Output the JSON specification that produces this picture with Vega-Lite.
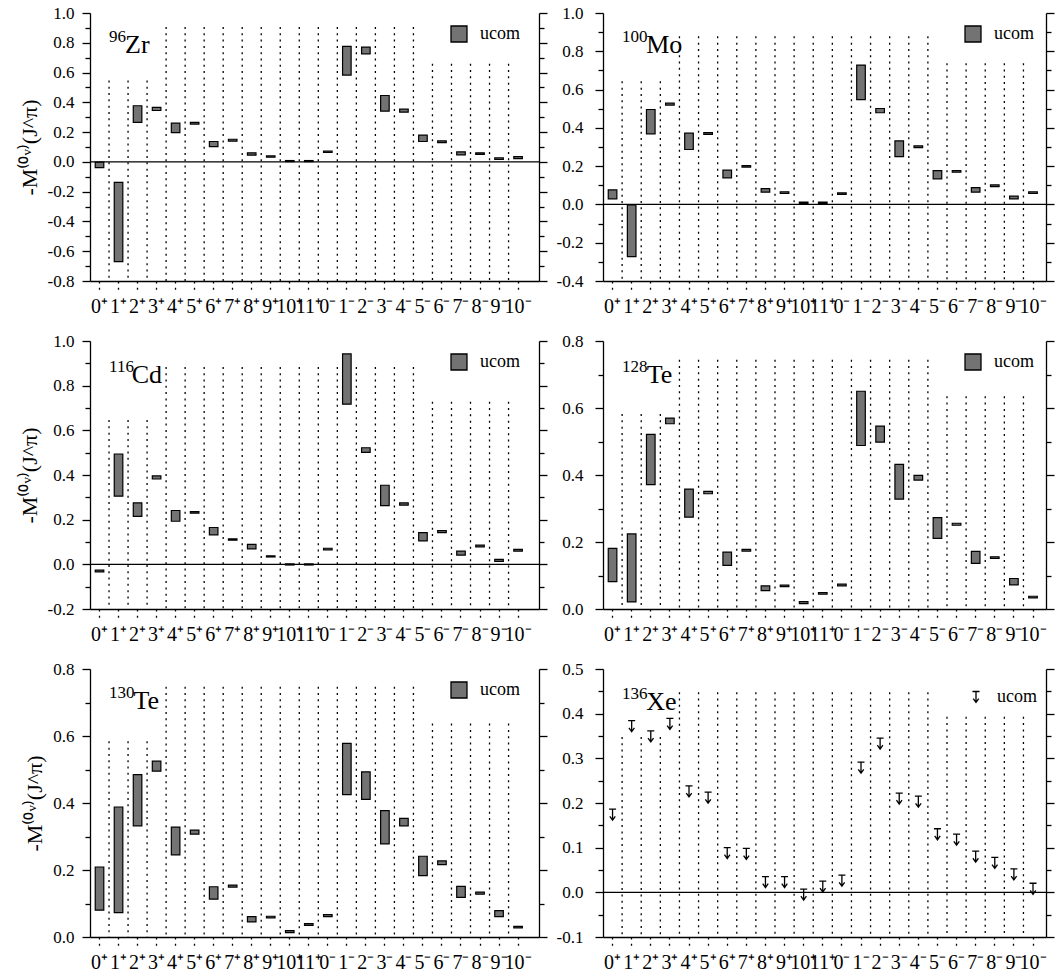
{
  "$schema": "https://vega.github.io/schema/vega-lite/v6.json",
  "padding": {"left": 18, "top": 4, "right": 5, "bottom": 5},
  "datasets": {
    "bars": [
      {"n":"96Zr","J":"0⁺","lo":-0.038,"hi":-0.002,"m":"ucom"},
      {"n":"96Zr","J":"1⁺","lo":-0.67,"hi":-0.137,"m":"ucom"},
      {"n":"96Zr","J":"2⁺","lo":0.265,"hi":0.377,"m":"ucom"},
      {"n":"96Zr","J":"3⁺","lo":0.345,"hi":0.366,"m":"ucom"},
      {"n":"96Zr","J":"4⁺","lo":0.197,"hi":0.26,"m":"ucom"},
      {"n":"96Zr","J":"5⁺","lo":0.254,"hi":0.266,"m":"ucom"},
      {"n":"96Zr","J":"6⁺","lo":0.103,"hi":0.137,"m":"ucom"},
      {"n":"96Zr","J":"7⁺","lo":0.139,"hi":0.152,"m":"ucom"},
      {"n":"96Zr","J":"8⁺","lo":0.045,"hi":0.061,"m":"ucom"},
      {"n":"96Zr","J":"9⁺","lo":0.031,"hi":0.04,"m":"ucom"},
      {"n":"96Zr","J":"10⁺","lo":0.002,"hi":0.009,"m":"ucom"},
      {"n":"96Zr","J":"11⁺","lo":0.002,"hi":0.009,"m":"ucom"},
      {"n":"96Zr","J":"0⁻","lo":0.063,"hi":0.072,"m":"ucom"},
      {"n":"96Zr","J":"1⁻","lo":0.583,"hi":0.776,"m":"ucom"},
      {"n":"96Zr","J":"2⁻","lo":0.726,"hi":0.771,"m":"ucom"},
      {"n":"96Zr","J":"3⁻","lo":0.341,"hi":0.446,"m":"ucom"},
      {"n":"96Zr","J":"4⁻","lo":0.334,"hi":0.354,"m":"ucom"},
      {"n":"96Zr","J":"5⁻","lo":0.137,"hi":0.18,"m":"ucom"},
      {"n":"96Zr","J":"6⁻","lo":0.13,"hi":0.141,"m":"ucom"},
      {"n":"96Zr","J":"7⁻","lo":0.047,"hi":0.067,"m":"ucom"},
      {"n":"96Zr","J":"8⁻","lo":0.05,"hi":0.061,"m":"ucom"},
      {"n":"96Zr","J":"9⁻","lo":0.016,"hi":0.027,"m":"ucom"},
      {"n":"96Zr","J":"10⁻","lo":0.022,"hi":0.036,"m":"ucom"},

      {"n":"100Mo","J":"0⁺","lo":0.029,"hi":0.076,"m":"ucom"},
      {"n":"100Mo","J":"1⁺","lo":-0.273,"hi":-0.002,"m":"ucom"},
      {"n":"100Mo","J":"2⁺","lo":0.369,"hi":0.496,"m":"ucom"},
      {"n":"100Mo","J":"3⁺","lo":0.519,"hi":0.529,"m":"ucom"},
      {"n":"100Mo","J":"4⁺","lo":0.287,"hi":0.372,"m":"ucom"},
      {"n":"100Mo","J":"5⁺","lo":0.366,"hi":0.375,"m":"ucom"},
      {"n":"100Mo","J":"6⁺","lo":0.139,"hi":0.179,"m":"ucom"},
      {"n":"100Mo","J":"7⁺","lo":0.195,"hi":0.203,"m":"ucom"},
      {"n":"100Mo","J":"8⁺","lo":0.064,"hi":0.083,"m":"ucom"},
      {"n":"100Mo","J":"9⁺","lo":0.057,"hi":0.066,"m":"ucom"},
      {"n":"100Mo","J":"10⁺","lo":0.005,"hi":0.012,"m":"ucom"},
      {"n":"100Mo","J":"11⁺","lo":0.005,"hi":0.012,"m":"ucom"},
      {"n":"100Mo","J":"0⁻","lo":0.052,"hi":0.06,"m":"ucom"},
      {"n":"100Mo","J":"1⁻","lo":0.548,"hi":0.728,"m":"ucom"},
      {"n":"100Mo","J":"2⁻","lo":0.479,"hi":0.501,"m":"ucom"},
      {"n":"100Mo","J":"3⁻","lo":0.25,"hi":0.332,"m":"ucom"},
      {"n":"100Mo","J":"4⁻","lo":0.297,"hi":0.306,"m":"ucom"},
      {"n":"100Mo","J":"5⁻","lo":0.134,"hi":0.177,"m":"ucom"},
      {"n":"100Mo","J":"6⁻","lo":0.168,"hi":0.177,"m":"ucom"},
      {"n":"100Mo","J":"7⁻","lo":0.064,"hi":0.088,"m":"ucom"},
      {"n":"100Mo","J":"8⁻","lo":0.093,"hi":0.102,"m":"ucom"},
      {"n":"100Mo","J":"9⁻","lo":0.029,"hi":0.043,"m":"ucom"},
      {"n":"100Mo","J":"10⁻","lo":0.057,"hi":0.066,"m":"ucom"},

      {"n":"116Cd","J":"0⁺","lo":-0.034,"hi":-0.026,"m":"ucom"},
      {"n":"116Cd","J":"1⁺","lo":0.305,"hi":0.494,"m":"ucom"},
      {"n":"116Cd","J":"2⁺","lo":0.215,"hi":0.275,"m":"ucom"},
      {"n":"116Cd","J":"3⁺","lo":0.382,"hi":0.396,"m":"ucom"},
      {"n":"116Cd","J":"4⁺","lo":0.193,"hi":0.241,"m":"ucom"},
      {"n":"116Cd","J":"5⁺","lo":0.229,"hi":0.236,"m":"ucom"},
      {"n":"116Cd","J":"6⁺","lo":0.132,"hi":0.165,"m":"ucom"},
      {"n":"116Cd","J":"7⁺","lo":0.108,"hi":0.114,"m":"ucom"},
      {"n":"116Cd","J":"8⁺","lo":0.069,"hi":0.089,"m":"ucom"},
      {"n":"116Cd","J":"9⁺","lo":0.033,"hi":0.038,"m":"ucom"},
      {"n":"116Cd","J":"10⁺","lo":-0.003,"hi":0.002,"m":"ucom"},
      {"n":"116Cd","J":"11⁺","lo":-0.003,"hi":0.002,"m":"ucom"},
      {"n":"116Cd","J":"0⁻","lo":0.065,"hi":0.072,"m":"ucom"},
      {"n":"116Cd","J":"1⁻","lo":0.717,"hi":0.942,"m":"ucom"},
      {"n":"116Cd","J":"2⁻","lo":0.501,"hi":0.522,"m":"ucom"},
      {"n":"116Cd","J":"3⁻","lo":0.263,"hi":0.354,"m":"ucom"},
      {"n":"116Cd","J":"4⁻","lo":0.265,"hi":0.275,"m":"ucom"},
      {"n":"116Cd","J":"5⁻","lo":0.105,"hi":0.142,"m":"ucom"},
      {"n":"116Cd","J":"6⁻","lo":0.142,"hi":0.151,"m":"ucom"},
      {"n":"116Cd","J":"7⁻","lo":0.041,"hi":0.059,"m":"ucom"},
      {"n":"116Cd","J":"8⁻","lo":0.078,"hi":0.086,"m":"ucom"},
      {"n":"116Cd","J":"9⁻","lo":0.013,"hi":0.022,"m":"ucom"},
      {"n":"116Cd","J":"10⁻","lo":0.059,"hi":0.067,"m":"ucom"},

      {"n":"128Te","J":"0⁺","lo":0.082,"hi":0.181,"m":"ucom"},
      {"n":"128Te","J":"1⁺","lo":0.021,"hi":0.224,"m":"ucom"},
      {"n":"128Te","J":"2⁺","lo":0.371,"hi":0.521,"m":"ucom"},
      {"n":"128Te","J":"3⁺","lo":0.553,"hi":0.57,"m":"ucom"},
      {"n":"128Te","J":"4⁺","lo":0.274,"hi":0.358,"m":"ucom"},
      {"n":"128Te","J":"5⁺","lo":0.344,"hi":0.351,"m":"ucom"},
      {"n":"128Te","J":"6⁺","lo":0.13,"hi":0.17,"m":"ucom"},
      {"n":"128Te","J":"7⁺","lo":0.173,"hi":0.178,"m":"ucom"},
      {"n":"128Te","J":"8⁺","lo":0.055,"hi":0.069,"m":"ucom"},
      {"n":"128Te","J":"9⁺","lo":0.067,"hi":0.071,"m":"ucom"},
      {"n":"128Te","J":"10⁺","lo":0.016,"hi":0.022,"m":"ucom"},
      {"n":"128Te","J":"11⁺","lo":0.044,"hi":0.049,"m":"ucom"},
      {"n":"128Te","J":"0⁻","lo":0.069,"hi":0.074,"m":"ucom"},
      {"n":"128Te","J":"1⁻","lo":0.488,"hi":0.65,"m":"ucom"},
      {"n":"128Te","J":"2⁻","lo":0.498,"hi":0.546,"m":"ucom"},
      {"n":"128Te","J":"3⁻","lo":0.328,"hi":0.432,"m":"ucom"},
      {"n":"128Te","J":"4⁻","lo":0.385,"hi":0.399,"m":"ucom"},
      {"n":"128Te","J":"5⁻","lo":0.211,"hi":0.273,"m":"ucom"},
      {"n":"128Te","J":"6⁻","lo":0.25,"hi":0.256,"m":"ucom"},
      {"n":"128Te","J":"7⁻","lo":0.136,"hi":0.172,"m":"ucom"},
      {"n":"128Te","J":"8⁻","lo":0.151,"hi":0.156,"m":"ucom"},
      {"n":"128Te","J":"9⁻","lo":0.072,"hi":0.091,"m":"ucom"},
      {"n":"128Te","J":"10⁻","lo":0.033,"hi":0.038,"m":"ucom"},

      {"n":"130Te","J":"0⁺","lo":0.08,"hi":0.209,"m":"ucom"},
      {"n":"130Te","J":"1⁺","lo":0.073,"hi":0.388,"m":"ucom"},
      {"n":"130Te","J":"2⁺","lo":0.332,"hi":0.485,"m":"ucom"},
      {"n":"130Te","J":"3⁺","lo":0.495,"hi":0.525,"m":"ucom"},
      {"n":"130Te","J":"4⁺","lo":0.245,"hi":0.328,"m":"ucom"},
      {"n":"130Te","J":"5⁺","lo":0.307,"hi":0.319,"m":"ucom"},
      {"n":"130Te","J":"6⁺","lo":0.113,"hi":0.15,"m":"ucom"},
      {"n":"130Te","J":"7⁺","lo":0.149,"hi":0.155,"m":"ucom"},
      {"n":"130Te","J":"8⁺","lo":0.045,"hi":0.061,"m":"ucom"},
      {"n":"130Te","J":"9⁺","lo":0.057,"hi":0.062,"m":"ucom"},
      {"n":"130Te","J":"10⁺","lo":0.013,"hi":0.019,"m":"ucom"},
      {"n":"130Te","J":"11⁺","lo":0.035,"hi":0.04,"m":"ucom"},
      {"n":"130Te","J":"0⁻","lo":0.061,"hi":0.067,"m":"ucom"},
      {"n":"130Te","J":"1⁻","lo":0.425,"hi":0.578,"m":"ucom"},
      {"n":"130Te","J":"2⁻","lo":0.411,"hi":0.493,"m":"ucom"},
      {"n":"130Te","J":"3⁻","lo":0.278,"hi":0.377,"m":"ucom"},
      {"n":"130Te","J":"4⁻","lo":0.332,"hi":0.354,"m":"ucom"},
      {"n":"130Te","J":"5⁻","lo":0.183,"hi":0.241,"m":"ucom"},
      {"n":"130Te","J":"6⁻","lo":0.216,"hi":0.227,"m":"ucom"},
      {"n":"130Te","J":"7⁻","lo":0.118,"hi":0.151,"m":"ucom"},
      {"n":"130Te","J":"8⁻","lo":0.128,"hi":0.134,"m":"ucom"},
      {"n":"130Te","J":"9⁻","lo":0.061,"hi":0.079,"m":"ucom"},
      {"n":"130Te","J":"10⁻","lo":0.027,"hi":0.032,"m":"ucom"}
    ],
    "xe": [
      {"J":"0⁺","v":0.174,"m":"ucom"},
      {"J":"1⁺","v":0.372,"m":"ucom"},
      {"J":"2⁺","v":0.349,"m":"ucom"},
      {"J":"3⁺","v":0.377,"m":"ucom"},
      {"J":"4⁺","v":0.226,"m":"ucom"},
      {"J":"5⁺","v":0.212,"m":"ucom"},
      {"J":"6⁺","v":0.088,"m":"ucom"},
      {"J":"7⁺","v":0.086,"m":"ucom"},
      {"J":"8⁺","v":0.023,"m":"ucom"},
      {"J":"9⁺","v":0.023,"m":"ucom"},
      {"J":"10⁺","v":-0.005,"m":"ucom"},
      {"J":"11⁺","v":0.013,"m":"ucom"},
      {"J":"0⁻","v":0.026,"m":"ucom"},
      {"J":"1⁻","v":0.279,"m":"ucom"},
      {"J":"2⁻","v":0.333,"m":"ucom"},
      {"J":"3⁻","v":0.21,"m":"ucom"},
      {"J":"4⁻","v":0.203,"m":"ucom"},
      {"J":"5⁻","v":0.13,"m":"ucom"},
      {"J":"6⁻","v":0.118,"m":"ucom"},
      {"J":"7⁻","v":0.08,"m":"ucom"},
      {"J":"8⁻","v":0.066,"m":"ucom"},
      {"J":"9⁻","v":0.04,"m":"ucom"},
      {"J":"10⁻","v":0.008,"m":"ucom"}
    ],
    "grid": [
      {"J":"1⁺","g":"s"},{"J":"2⁺","g":"s"},{"J":"3⁺","g":"s"},
      {"J":"4⁺","g":"t"},{"J":"5⁺","g":"t"},{"J":"6⁺","g":"t"},{"J":"7⁺","g":"t"},
      {"J":"8⁺","g":"t"},{"J":"9⁺","g":"t"},{"J":"10⁺","g":"t"},{"J":"11⁺","g":"t"},
      {"J":"0⁻","g":"t"},{"J":"1⁻","g":"t"},{"J":"2⁻","g":"t"},{"J":"3⁻","g":"t"},
      {"J":"4⁻","g":"t"},{"J":"5⁻","g":"t"},
      {"J":"6⁻","g":"m"},{"J":"7⁻","g":"m"},{"J":"8⁻","g":"m"},{"J":"9⁻","g":"m"},{"J":"10⁻","g":"m"}
    ]
  },
  "concat": [
    {
      "width": 449, "height": 268,
      "layer": [
        {
          "data": {"name": "grid"},
          "transform": [{"lookup": "g", "from": {"data": {"values": [{"g":"s","t":0.547},{"g":"t","t":0.906},{"g":"m","t":0.659}]}, "key": "g", "fields": ["t"]}}],
          "mark": {"type": "rule", "color": "black", "strokeWidth": 1.3, "strokeDash": [2, 4.3]},
          "encoding": {
            "x": {"field": "J", "type": "nominal", "bandPosition": 0, "title": null, "scale": {"domain": ["0⁺","1⁺","2⁺","3⁺","4⁺","5⁺","6⁺","7⁺","8⁺","9⁺","10⁺","11⁺","0⁻","1⁻","2⁻","3⁻","4⁻","5⁻","6⁻","7⁻","8⁻","9⁻","10⁻"], "paddingInner": 0, "paddingOuter": 0.3, "align": 0}},
            "y": {"field": "t", "type": "quantitative", "scale": {"domain": [-0.8, 1.0], "nice": false, "zero": false},
                  "axis": {"orient": "left", "title": "-M⁽⁰ᵛ⁾(J^π)", "values": [-0.8,-0.7,-0.6,-0.5,-0.4,-0.3,-0.2,-0.1,0,0.1,0.2,0.3,0.4,0.5,0.6,0.7,0.8,0.9,1.0],
                           "labelExpr": "round(datum.value*10)%2==0 ? replace(format(datum.value,'.1f'),'−','-') : ''",
                           "tickSize": {"condition": {"test": "round(datum.value*10)%2==0", "value": 8}, "value": 5}}},
            "y2": {"datum": -0.8}
          }
        },
        {
          "data": {"name": "bars"},
          "transform": [{"filter": "datum.n == '96Zr'"}],
          "mark": {"type": "bar", "stroke": "black", "strokeWidth": 1.2, "width": {"band": 0.45}},
          "encoding": {
            "x": {"field": "J", "type": "nominal", "title": null},
            "y": {"field": "lo", "type": "quantitative",
                  "axis": {"orient": "right", "title": null, "labels": false, "values": [-0.8,-0.7,-0.6,-0.5,-0.4,-0.3,-0.2,-0.1,0,0.1,0.2,0.3,0.4,0.5,0.6,0.7,0.8,0.9,1.0],
                           "tickSize": {"condition": {"test": "round(datum.value*10)%2==0", "value": 8}, "value": 5}}},
            "y2": {"field": "hi"},
            "color": {"field": "m", "type": "nominal", "scale": {"range": ["#737373"]}, "legend": {"orient": "none", "legendX": 360, "legendY": 12, "title": null, "symbolType": "square"}}
          }
        },
        {
          "data": {"values": [{}]},
          "mark": {"type": "rule", "color": "black", "strokeWidth": 1.3},
          "encoding": {"y": {"datum": 0, "type": "quantitative", "axis": null}}
        },
        {
          "data": {"values": [{}]},
          "mark": {"type": "text", "text": "96", "fontSize": 17, "dy": -11, "align": "left", "baseline": "alphabetic"},
          "encoding": {"x": {"datum": "1⁺", "type": "nominal", "bandPosition": 0}, "y": {"datum": 0.731, "type": "quantitative", "axis": null}}
        },
        {
          "data": {"values": [{}]},
          "mark": {"type": "text", "text": "Zr", "fontSize": 26, "align": "left", "baseline": "alphabetic"},
          "encoding": {"x": {"datum": "1⁺", "type": "nominal", "bandPosition": 0.84}, "y": {"datum": 0.731, "type": "quantitative", "axis": null}}
        }
      ],
      "resolve": {"axis": {"y": "independent"}}
    },
    {
      "width": 443, "height": 268,
      "layer": [
        {
          "data": {"name": "grid"},
          "transform": [{"lookup": "g", "from": {"data": {"values": [{"g":"s","t":0.643},{"g":"t","t":0.878},{"g":"m","t":0.738}]}, "key": "g", "fields": ["t"]}}],
          "mark": {"type": "rule", "color": "black", "strokeWidth": 1.3, "strokeDash": [2, 4.3]},
          "encoding": {
            "x": {"field": "J", "type": "nominal", "bandPosition": 0, "title": null, "scale": {"domain": ["0⁺","1⁺","2⁺","3⁺","4⁺","5⁺","6⁺","7⁺","8⁺","9⁺","10⁺","11⁺","0⁻","1⁻","2⁻","3⁻","4⁻","5⁻","6⁻","7⁻","8⁻","9⁻","10⁻"], "paddingInner": 0, "paddingOuter": 0.09, "align": 0}},
            "y": {"field": "t", "type": "quantitative", "scale": {"domain": [-0.4, 1.0], "nice": false, "zero": false},
                  "axis": {"orient": "left", "title": null, "labelPadding": 12, "values": [-0.4,-0.3,-0.2,-0.1,0,0.1,0.2,0.3,0.4,0.5,0.6,0.7,0.8,0.9,1.0],
                           "labelExpr": "round(datum.value*10)%2==0 ? replace(format(datum.value,'.1f'),'−','-') : ''",
                           "tickSize": {"condition": {"test": "round(datum.value*10)%2==0", "value": 8}, "value": 5}}},
            "y2": {"datum": -0.4}
          }
        },
        {
          "data": {"name": "bars"},
          "transform": [{"filter": "datum.n == '100Mo'"}],
          "mark": {"type": "bar", "stroke": "black", "strokeWidth": 1.2, "width": {"band": 0.45}},
          "encoding": {
            "x": {"field": "J", "type": "nominal", "title": null},
            "y": {"field": "lo", "type": "quantitative",
                  "axis": {"orient": "right", "title": null, "labels": false, "values": [-0.4,-0.3,-0.2,-0.1,0,0.1,0.2,0.3,0.4,0.5,0.6,0.7,0.8,0.9,1.0],
                           "tickSize": {"condition": {"test": "round(datum.value*10)%2==0", "value": 8}, "value": 5}}},
            "y2": {"field": "hi"},
            "color": {"field": "m", "type": "nominal", "scale": {"range": ["#737373"]}, "legend": {"orient": "none", "legendX": 361, "legendY": 12, "title": null, "symbolType": "square"}}
          }
        },
        {
          "data": {"values": [{}]},
          "mark": {"type": "rule", "color": "black", "strokeWidth": 1.3},
          "encoding": {"y": {"datum": 0, "type": "quantitative", "axis": null}}
        },
        {
          "data": {"values": [{}]},
          "mark": {"type": "text", "text": "100", "fontSize": 17, "dy": -11, "align": "left", "baseline": "alphabetic"},
          "encoding": {"x": {"datum": "1⁺", "type": "nominal", "bandPosition": 0}, "y": {"datum": 0.791, "type": "quantitative", "axis": null}}
        },
        {
          "data": {"values": [{}]},
          "mark": {"type": "text", "text": "Mo", "fontSize": 26, "align": "left", "baseline": "alphabetic"},
          "encoding": {"x": {"datum": "2⁺", "type": "nominal", "bandPosition": 0.26}, "y": {"datum": 0.791, "type": "quantitative", "axis": null}}
        }
      ],
      "resolve": {"axis": {"y": "independent"}}
    },
    {
      "width": 449, "height": 268,
      "layer": [
        {
          "data": {"name": "grid"},
          "transform": [{"lookup": "g", "from": {"data": {"values": [{"g":"s","t":0.646},{"g":"t","t":0.884},{"g":"m","t":0.728}]}, "key": "g", "fields": ["t"]}}],
          "mark": {"type": "rule", "color": "black", "strokeWidth": 1.3, "strokeDash": [2, 4.3]},
          "encoding": {
            "x": {"field": "J", "type": "nominal", "bandPosition": 0, "title": null, "scale": {"domain": ["0⁺","1⁺","2⁺","3⁺","4⁺","5⁺","6⁺","7⁺","8⁺","9⁺","10⁺","11⁺","0⁻","1⁻","2⁻","3⁻","4⁻","5⁻","6⁻","7⁻","8⁻","9⁻","10⁻"], "paddingInner": 0, "paddingOuter": 0.3, "align": 0}},
            "y": {"field": "t", "type": "quantitative", "scale": {"domain": [-0.2, 1.0], "nice": false, "zero": false},
                  "axis": {"orient": "left", "title": "-M⁽⁰ᵛ⁾(J^π)", "values": [-0.2,-0.1,0,0.1,0.2,0.3,0.4,0.5,0.6,0.7,0.8,0.9,1.0],
                           "labelExpr": "round(datum.value*10)%2==0 ? replace(format(datum.value,'.1f'),'−','-') : ''",
                           "tickSize": {"condition": {"test": "round(datum.value*10)%2==0", "value": 8}, "value": 5}}},
            "y2": {"datum": -0.2}
          }
        },
        {
          "data": {"name": "bars"},
          "transform": [{"filter": "datum.n == '116Cd'"}],
          "mark": {"type": "bar", "stroke": "black", "strokeWidth": 1.2, "width": {"band": 0.45}},
          "encoding": {
            "x": {"field": "J", "type": "nominal", "title": null},
            "y": {"field": "lo", "type": "quantitative",
                  "axis": {"orient": "right", "title": null, "labels": false, "values": [-0.2,-0.1,0,0.1,0.2,0.3,0.4,0.5,0.6,0.7,0.8,0.9,1.0],
                           "tickSize": {"condition": {"test": "round(datum.value*10)%2==0", "value": 8}, "value": 5}}},
            "y2": {"field": "hi"},
            "color": {"field": "m", "type": "nominal", "scale": {"range": ["#737373"]}, "legend": {"orient": "none", "legendX": 360, "legendY": 12, "title": null, "symbolType": "square"}}
          }
        },
        {
          "data": {"values": [{}]},
          "mark": {"type": "rule", "color": "black", "strokeWidth": 1.3},
          "encoding": {"y": {"datum": 0, "type": "quantitative", "axis": null}}
        },
        {
          "data": {"values": [{}]},
          "mark": {"type": "text", "text": "116", "fontSize": 17, "dy": -11, "align": "left", "baseline": "alphabetic"},
          "encoding": {"x": {"datum": "1⁺", "type": "nominal", "bandPosition": 0}, "y": {"datum": 0.812, "type": "quantitative", "axis": null}}
        },
        {
          "data": {"values": [{}]},
          "mark": {"type": "text", "text": "Cd", "fontSize": 26, "align": "left", "baseline": "alphabetic"},
          "encoding": {"x": {"datum": "2⁺", "type": "nominal", "bandPosition": 0.19}, "y": {"datum": 0.812, "type": "quantitative", "axis": null}}
        }
      ],
      "resolve": {"axis": {"y": "independent"}}
    },
    {
      "width": 443, "height": 268,
      "layer": [
        {
          "data": {"name": "grid"},
          "transform": [{"lookup": "g", "from": {"data": {"values": [{"g":"s","t":0.582},{"g":"t","t":0.744},{"g":"m","t":0.635}]}, "key": "g", "fields": ["t"]}}],
          "mark": {"type": "rule", "color": "black", "strokeWidth": 1.3, "strokeDash": [2, 4.3]},
          "encoding": {
            "x": {"field": "J", "type": "nominal", "bandPosition": 0, "title": null, "scale": {"domain": ["0⁺","1⁺","2⁺","3⁺","4⁺","5⁺","6⁺","7⁺","8⁺","9⁺","10⁺","11⁺","0⁻","1⁻","2⁻","3⁻","4⁻","5⁻","6⁻","7⁻","8⁻","9⁻","10⁻"], "paddingInner": 0, "paddingOuter": 0.09, "align": 0}},
            "y": {"field": "t", "type": "quantitative", "scale": {"domain": [0, 0.8], "nice": false, "zero": false},
                  "axis": {"orient": "left", "title": null, "labelPadding": 12, "values": [0,0.1,0.2,0.3,0.4,0.5,0.6,0.7,0.8],
                           "labelExpr": "round(datum.value*10)%2==0 ? replace(format(datum.value,'.1f'),'−','-') : ''",
                           "tickSize": {"condition": {"test": "round(datum.value*10)%2==0", "value": 8}, "value": 5}}},
            "y2": {"datum": 0}
          }
        },
        {
          "data": {"name": "bars"},
          "transform": [{"filter": "datum.n == '128Te'"}],
          "mark": {"type": "bar", "stroke": "black", "strokeWidth": 1.2, "width": {"band": 0.45}},
          "encoding": {
            "x": {"field": "J", "type": "nominal", "title": null},
            "y": {"field": "lo", "type": "quantitative",
                  "axis": {"orient": "right", "title": null, "labels": false, "values": [0,0.1,0.2,0.3,0.4,0.5,0.6,0.7,0.8],
                           "tickSize": {"condition": {"test": "round(datum.value*10)%2==0", "value": 8}, "value": 5}}},
            "y2": {"field": "hi"},
            "color": {"field": "m", "type": "nominal", "scale": {"range": ["#737373"]}, "legend": {"orient": "none", "legendX": 361, "legendY": 12, "title": null, "symbolType": "square"}}
          }
        },
        {
          "data": {"values": [{}]},
          "mark": {"type": "text", "text": "128", "fontSize": 17, "dy": -11, "align": "left", "baseline": "alphabetic"},
          "encoding": {"x": {"datum": "1⁺", "type": "nominal", "bandPosition": 0}, "y": {"datum": 0.675, "type": "quantitative", "axis": null}}
        },
        {
          "data": {"values": [{}]},
          "mark": {"type": "text", "text": "Te", "fontSize": 26, "align": "left", "baseline": "alphabetic"},
          "encoding": {"x": {"datum": "2⁺", "type": "nominal", "bandPosition": 0.29}, "y": {"datum": 0.675, "type": "quantitative", "axis": null}}
        }
      ],
      "resolve": {"axis": {"y": "independent"}}
    },
    {
      "width": 449, "height": 268,
      "layer": [
        {
          "data": {"name": "grid"},
          "transform": [{"lookup": "g", "from": {"data": {"values": [{"g":"s","t":0.584},{"g":"t","t":0.747},{"g":"m","t":0.637}]}, "key": "g", "fields": ["t"]}}],
          "mark": {"type": "rule", "color": "black", "strokeWidth": 1.3, "strokeDash": [2, 4.3]},
          "encoding": {
            "x": {"field": "J", "type": "nominal", "bandPosition": 0, "title": null, "scale": {"domain": ["0⁺","1⁺","2⁺","3⁺","4⁺","5⁺","6⁺","7⁺","8⁺","9⁺","10⁺","11⁺","0⁻","1⁻","2⁻","3⁻","4⁻","5⁻","6⁻","7⁻","8⁻","9⁻","10⁻"], "paddingInner": 0, "paddingOuter": 0.3, "align": 0}},
            "y": {"field": "t", "type": "quantitative", "scale": {"domain": [0, 0.8], "nice": false, "zero": false},
                  "axis": {"orient": "left", "title": "-M⁽⁰ᵛ⁾(J^π)", "values": [0,0.1,0.2,0.3,0.4,0.5,0.6,0.7,0.8],
                           "labelExpr": "round(datum.value*10)%2==0 ? replace(format(datum.value,'.1f'),'−','-') : ''",
                           "tickSize": {"condition": {"test": "round(datum.value*10)%2==0", "value": 8}, "value": 5}}},
            "y2": {"datum": 0}
          }
        },
        {
          "data": {"name": "bars"},
          "transform": [{"filter": "datum.n == '130Te'"}],
          "mark": {"type": "bar", "stroke": "black", "strokeWidth": 1.2, "width": {"band": 0.45}},
          "encoding": {
            "x": {"field": "J", "type": "nominal", "title": null},
            "y": {"field": "lo", "type": "quantitative",
                  "axis": {"orient": "right", "title": null, "labels": false, "values": [0,0.1,0.2,0.3,0.4,0.5,0.6,0.7,0.8],
                           "tickSize": {"condition": {"test": "round(datum.value*10)%2==0", "value": 8}, "value": 5}}},
            "y2": {"field": "hi"},
            "color": {"field": "m", "type": "nominal", "scale": {"range": ["#737373"]}, "legend": {"orient": "none", "legendX": 360, "legendY": 12, "title": null, "symbolType": "square"}}
          }
        },
        {
          "data": {"values": [{}]},
          "mark": {"type": "text", "text": "130", "fontSize": 17, "dy": -11, "align": "left", "baseline": "alphabetic"},
          "encoding": {"x": {"datum": "1⁺", "type": "nominal", "bandPosition": 0}, "y": {"datum": 0.68, "type": "quantitative", "axis": null}}
        },
        {
          "data": {"values": [{}]},
          "mark": {"type": "text", "text": "Te", "fontSize": 26, "align": "left", "baseline": "alphabetic"},
          "encoding": {"x": {"datum": "2⁺", "type": "nominal", "bandPosition": 0.28}, "y": {"datum": 0.68, "type": "quantitative", "axis": null}}
        }
      ],
      "resolve": {"axis": {"y": "independent"}}
    },
    {
      "width": 443, "height": 268,
      "layer": [
        {
          "data": {"name": "grid"},
          "transform": [{"lookup": "g", "from": {"data": {"values": [{"g":"s","t":0.348},{"g":"t","t":0.448},{"g":"m","t":0.393}]}, "key": "g", "fields": ["t"]}}],
          "mark": {"type": "rule", "color": "black", "strokeWidth": 1.3, "strokeDash": [2, 4.3]},
          "encoding": {
            "x": {"field": "J", "type": "nominal", "bandPosition": 0, "title": null, "scale": {"domain": ["0⁺","1⁺","2⁺","3⁺","4⁺","5⁺","6⁺","7⁺","8⁺","9⁺","10⁺","11⁺","0⁻","1⁻","2⁻","3⁻","4⁻","5⁻","6⁻","7⁻","8⁻","9⁻","10⁻"], "paddingInner": 0, "paddingOuter": 0.09, "align": 0}},
            "y": {"field": "t", "type": "quantitative", "scale": {"domain": [-0.1, 0.5], "nice": false, "zero": false},
                  "axis": {"orient": "left", "title": null, "labelPadding": 12, "values": [-0.1,-0.05,0,0.05,0.1,0.15,0.2,0.25,0.3,0.35,0.4,0.45,0.5],
                           "labelExpr": "round(datum.value*20)%2==0 ? replace(format(datum.value,'.1f'),'−','-') : ''",
                           "tickSize": {"condition": {"test": "round(datum.value*20)%2==0", "value": 8}, "value": 5}}},
            "y2": {"datum": -0.1}
          }
        },
        {
          "data": {"name": "xe"},
          "mark": {"type": "point", "shape": "M-0.64,-1H0.64M0,-1V1M-0.5,0.3L0,1L0.5,0.3", "size": 121, "filled": false, "strokeWidth": 1.3, "opacity": 1},
          "encoding": {
            "x": {"field": "J", "type": "nominal", "title": null},
            "y": {"field": "v", "type": "quantitative",
                  "axis": {"orient": "right", "title": null, "labels": false, "values": [-0.1,-0.05,0,0.05,0.1,0.15,0.2,0.25,0.3,0.35,0.4,0.45,0.5],
                           "tickSize": {"condition": {"test": "round(datum.value*20)%2==0", "value": 8}, "value": 5}}},
            "color": {"field": "m", "type": "nominal", "scale": {"range": ["black"]},
                      "legend": {"orient": "none", "legendX": 364, "legendY": 19, "title": null, "labelOffset": 12, "symbolType": "M-0.64,-1H0.64M0,-1V1M-0.5,0.3L0,1L0.5,0.3", "symbolSize": 121, "symbolFillColor": "transparent", "symbolStrokeColor": "black"}}
          }
        },
        {
          "data": {"values": [{}]},
          "mark": {"type": "rule", "color": "black", "strokeWidth": 1.3},
          "encoding": {"y": {"datum": 0, "type": "quantitative", "axis": null}}
        },
        {
          "data": {"values": [{}]},
          "mark": {"type": "text", "text": "136", "fontSize": 17, "dy": -11, "align": "left", "baseline": "alphabetic"},
          "encoding": {"x": {"datum": "1⁺", "type": "nominal", "bandPosition": 0}, "y": {"datum": 0.408, "type": "quantitative", "axis": null}}
        },
        {
          "data": {"values": [{}]},
          "mark": {"type": "text", "text": "Xe", "fontSize": 26, "align": "left", "baseline": "alphabetic"},
          "encoding": {"x": {"datum": "2⁺", "type": "nominal", "bandPosition": 0.26}, "y": {"datum": 0.408, "type": "quantitative", "axis": null}}
        }
      ],
      "resolve": {"axis": {"y": "independent"}}
    }
  ],
  "columns": 2,
  "align": "each",
  "spacing": {"row": 16, "column": 8},
  "resolve": {"scale": {"x": "independent", "y": "independent", "color": "independent"}, "legend": {"color": "independent"}},
  "config": {
    "font": "Liberation Serif",
    "view": {"stroke": null},
    "axis": {"domainColor": "black", "domainWidth": 1.3, "tickColor": "black", "tickWidth": 1.3, "labelColor": "black", "titleColor": "black", "grid": false, "labelFont": "Liberation Serif", "titleFont": "Liberation Serif", "titleFontWeight": "normal", "labelFontSize": 17},
    "axisX": {"labelFontSize": 20, "tickDash": [2, 4.3], "tickSize": 10, "labelPadding": 5, "labelAngle": 0, "tickOffset": -9.5},
    "axisY": {"labelPadding": 8, "titleFontSize": 22, "titlePadding": 6},
    "legend": {"padding": 0, "labelFont": "Liberation Serif", "labelFontSize": 18, "labelColor": "black", "labelOffset": 12, "symbolSize": 256, "symbolStrokeColor": "black", "symbolStrokeWidth": 1.3, "symbolOpacity": 1},
    "text": {"font": "Liberation Serif", "color": "black"}
  }
}
